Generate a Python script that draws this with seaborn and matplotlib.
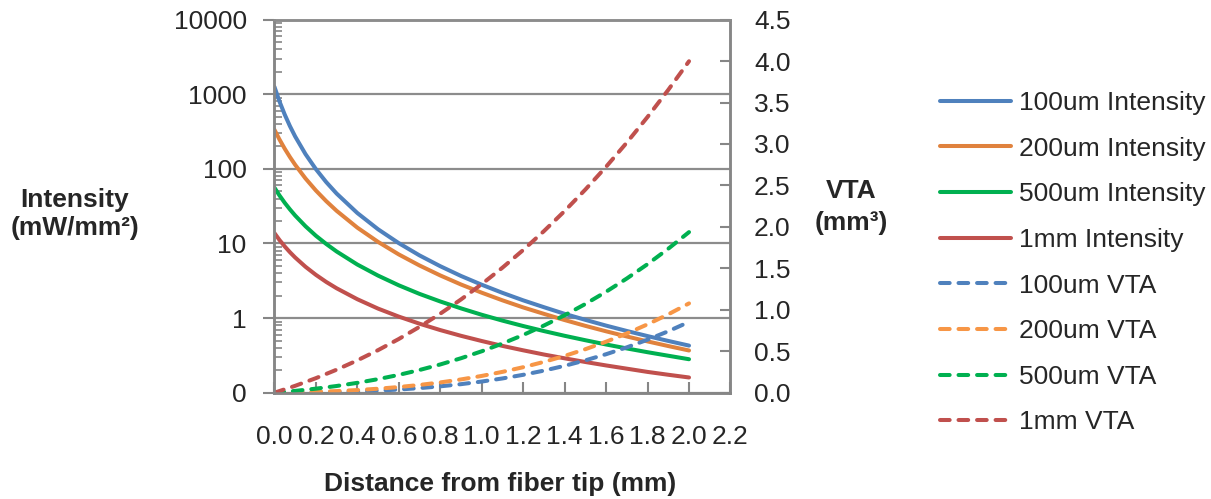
import matplotlib
matplotlib.use("Agg")
import matplotlib.pyplot as plt
import matplotlib.ticker as mticker
from matplotlib.lines import Line2D
import numpy as np
import pandas as pd
import seaborn as sns

# ---- data -----------------------------------------------------------------
dist_int = [0, 0.025, 0.05, 0.075, 0.1, 0.15, 0.2, 0.25, 0.3, 0.4, 0.5, 0.6, 0.7,
            0.8, 0.9, 1.0, 1.1, 1.2, 1.3, 1.4, 1.5, 1.6, 1.7, 1.8, 1.9, 2.0]

int_100um = [1260, 793, 532, 373, 272, 157.5, 99.2, 66.4, 46.7, 25.6, 15.5, 10.1, 6.92,
             4.96, 3.67, 2.80, 2.18, 1.73, 1.40, 1.14, 0.947, 0.793, 0.672, 0.574, 0.494, 0.428]
int_200um = [335, 246, 185.7, 143.7, 113.4, 74.3, 51.3, 36.9, 27.4, 16.3, 10.5, 7.13, 5.07,
             3.73, 2.82, 2.19, 1.73, 1.39, 1.14, 0.941, 0.787, 0.665, 0.567, 0.487, 0.422, 0.368]
int_500um = [56, 43.8, 35.0, 28.6, 23.7, 17.0, 12.7, 9.85, 7.81, 5.22, 3.71, 2.75, 2.11,
             1.67, 1.35, 1.108, 0.925, 0.783, 0.670, 0.579, 0.505, 0.443, 0.392, 0.349, 0.313, 0.281]
int_1mm = [13.8, 11.08, 9.11, 7.63, 6.49, 4.87, 3.80, 3.05, 2.51, 1.79, 1.34, 1.047, 0.841,
           0.691, 0.579, 0.493, 0.424, 0.370, 0.325, 0.289, 0.258, 0.232, 0.210, 0.190, 0.174, 0.160]

dist_vta = [0, 0.1, 0.2, 0.3, 0.4, 0.5, 0.6, 0.7, 0.8, 0.9, 1.0,
            1.1, 1.2, 1.3, 1.4, 1.5, 1.6, 1.7, 1.8, 1.9, 2.0]

vta_100um = [0, 0.0013, 0.0040, 0.0086, 0.0155, 0.0253, 0.0385, 0.0555, 0.0769, 0.1031, 0.1347,
             0.1721, 0.2159, 0.2665, 0.3244, 0.3902, 0.4643, 0.5472, 0.6394, 0.7414, 0.8538]
vta_200um = [0, 0.0041, 0.0105, 0.0196, 0.0320, 0.0481, 0.0685, 0.0936, 0.1240, 0.1601, 0.2024,
             0.2514, 0.3077, 0.3717, 0.4439, 0.5248, 0.6150, 0.7148, 0.8248, 0.9455, 1.0774]
vta_500um = [0, 0.0219, 0.0488, 0.0810, 0.1191, 0.1637, 0.2151, 0.2739, 0.3407, 0.4158, 0.4997,
             0.5931, 0.6963, 0.8099, 0.9343, 1.0702, 1.2178, 1.3778, 1.5507, 1.7369, 1.9370]
vta_1mm = [0, 0.0830, 0.1754, 0.2776, 0.3901, 0.5134, 0.6480, 0.7944, 0.9531, 1.1247, 1.3095,
           1.5081, 1.7210, 1.9487, 2.1916, 2.4503, 2.7253, 3.0171, 3.3261, 3.6529, 3.9979]

int_labels = ["100um Intensity", "200um Intensity", "500um Intensity", "1mm Intensity"]
vta_labels = ["100um VTA", "200um VTA", "500um VTA", "1mm VTA"]

int_colors = ["#4F81BD", "#E0823D", "#00B050", "#C0504D"]
vta_colors = ["#4F81BD", "#F79646", "#00B050", "#C0504D"]

intensity_ticks = [0.1, 1, 10, 100, 1000, 10000]
intensity_ticklabels = ["0", "1", "10", "100", "1000", "10000"]
vta_ticks = [0.0, 0.5, 1.0, 1.5, 2.0, 2.5, 3.0, 3.5, 4.0, 4.5]
dist_ticks = [0.0, 0.2, 0.4, 0.6, 0.8, 1.0, 1.2, 1.4, 1.6, 1.8, 2.0, 2.2]

# ---- style ----------------------------------------------------------------
sns.set_theme(style="white")
plt.rcParams["font.family"] = ["Liberation Sans", "DejaVu Sans"]
FS = 19
GRID = "#8C8C8C"
SPINE = "#868686"
LW = 2.9
DASH = (0, (2.4, 2.2))

fig = plt.figure(figsize=(12.11, 4.99), dpi=100)
ax = fig.add_axes([0.2266, 0.2130, 0.3766, 0.7477])
ax2 = ax.twinx()

int_df = pd.DataFrame({"dist": dist_int, int_labels[0]: int_100um, int_labels[1]: int_200um,
                       int_labels[2]: int_500um, int_labels[3]: int_1mm})
vta_df = pd.DataFrame({"dist": dist_vta, vta_labels[0]: vta_100um, vta_labels[1]: vta_200um,
                       vta_labels[2]: vta_500um, vta_labels[3]: vta_1mm})

handles = []
for lab, col in zip(int_labels, int_colors):
    sns.lineplot(data=int_df, x="dist", y=lab, ax=ax, color=col, lw=LW,
                 solid_capstyle="round", legend=False)
    handles.append(Line2D([], [], color=col, lw=LW, solid_capstyle="round", label=lab))
for lab, col in zip(vta_labels, vta_colors):
    sns.lineplot(data=vta_df, x="dist", y=lab, ax=ax2, color=col, lw=LW,
                 linestyle=DASH, dash_capstyle="round", legend=False)
    handles.append(Line2D([], [], color=col, lw=LW, linestyle=DASH,
                          dash_capstyle="round", label=lab))

# ---- left (log) axis ------------------------------------------------------
ax.set_yscale("log")
ax.set_ylim(0.1, 10000)
ax.yaxis.set_major_locator(mticker.FixedLocator(intensity_ticks))
ax.yaxis.set_major_formatter(mticker.FixedFormatter(intensity_ticklabels))
ax.yaxis.set_minor_locator(mticker.LogLocator(base=10, subs=np.arange(2, 10)))
ax.yaxis.set_minor_formatter(mticker.NullFormatter())
ax.grid(axis="y", which="major", color=GRID, lw=1.6)
ax.grid(axis="x", visible=False)
ax.set_axisbelow(True)

ax.set_xlim(0, 2.2)
ax.set_xticks(dist_ticks)
ax.xaxis.set_major_formatter(mticker.FormatStrFormatter("%.1f"))

ax.tick_params(axis="y", which="major", direction="out", length=8, width=1.5,
               color=SPINE, labelsize=FS, pad=12)
ax.tick_params(axis="y", which="minor", direction="in", length=6, width=1.2,
               color=SPINE, left=True)
ax.tick_params(axis="x", which="major", direction="in", length=8, width=1.5,
               color=SPINE, labelsize=FS, pad=23, bottom=True)
ax.set_xlabel("")
ax.set_ylabel("")

# ---- right (linear) axis --------------------------------------------------
ax2.set_ylim(0, 4.5)
ax2.set_yticks(vta_ticks)
ax2.yaxis.set_major_formatter(mticker.FormatStrFormatter("%.1f"))
ax2.tick_params(axis="y", direction="in", length=7, width=1.5, color=SPINE,
                labelsize=FS, pad=17, right=True)
ax2.set_ylabel("")
ax2.grid(False)

for a in (ax, ax2):
    for side in ("left", "right", "bottom", "top"):
        a.spines[side].set_color(SPINE)
        a.spines[side].set_linewidth(1.8)
ax.spines["top"].set_color(GRID)
ax2.spines["top"].set_color(GRID)

# ---- titles and legend ----------------------------------------------------
fig.text(75 / 1211, 1 - 214 / 499, "Intensity\n(mW/mm²)", ha="center", va="center",
         fontsize=FS, fontweight="bold", linespacing=1.2)
fig.text(851 / 1211, 1 - 207 / 499, "VTA\n(mm³)", ha="center", va="center",
         fontsize=FS, fontweight="bold", linespacing=1.45)
fig.text(500 / 1211, 1 - 484 / 499, "Distance from fiber tip (mm)", ha="center",
         va="center", fontsize=FS, fontweight="bold")

fig.legend(handles=handles, loc="upper left", bbox_to_anchor=(940 / 1211, 1 - 91 / 499),
           frameon=False, fontsize=FS, handlelength=2.7, handletextpad=0.28,
           labelspacing=0.82, borderpad=0, borderaxespad=0)

fig.savefig("out.png", dpi=100)
